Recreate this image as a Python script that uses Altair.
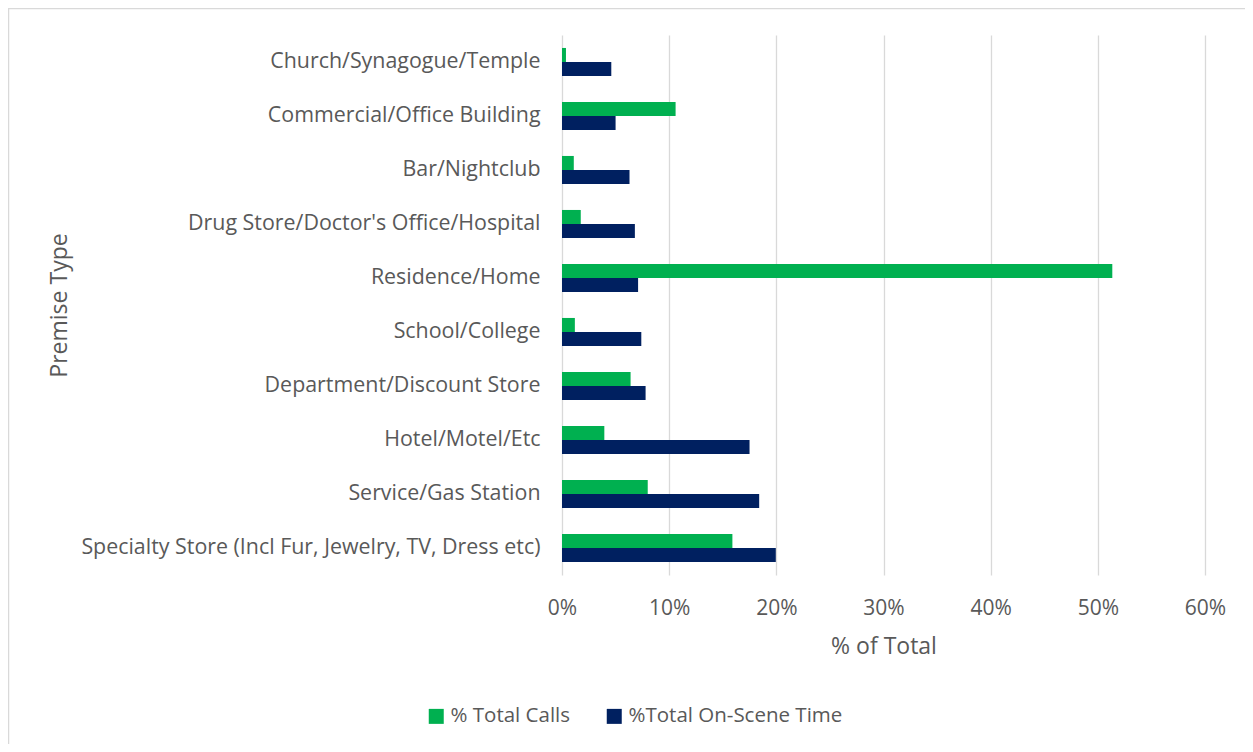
import altair as alt
import pandas as pd

categories = [
    "Church/Synagogue/Temple",
    "Commercial/Office Building",
    "Bar/Nightclub",
    "Drug Store/Doctor's Office/Hospital",
    "Residence/Home",
    "School/College",
    "Department/Discount Store",
    "Hotel/Motel/Etc",
    "Service/Gas Station",
    "Specialty Store (Incl Fur, Jewelry, TV, Dress etc)",
]
total_calls = [0.0037, 0.106, 0.011, 0.0175, 0.5135, 0.012, 0.064, 0.0395, 0.080, 0.159]
on_scene_time = [0.046, 0.050, 0.063, 0.068, 0.071, 0.074, 0.078, 0.175, 0.184, 0.1995]
series_names = ["% Total Calls", "%Total On-Scene Time"]
series_colors = ["#00B050", "#002060"]

rows = []
for c, a, b in zip(categories, total_calls, on_scene_time):
    rows.append({"Premise Type": c, "Series": series_names[0], "Value": a})
    rows.append({"Premise Type": c, "Series": series_names[1], "Value": b})
df = pd.DataFrame(rows)

FONT = "Open Sans"
GRAY = "#595959"

bars = alt.Chart(df).mark_bar().encode(
    y=alt.Y("Premise Type:N", sort=categories,
            scale=alt.Scale(paddingInner=0.48, paddingOuter=0.24),
            axis=alt.Axis(title="Premise Type", ticks=False, domain=False,
                          labelPadding=22, labelFontSize=21.4, labelColor=GRAY,
                          labelFont=FONT, labelLimit=700,
                          titleFont=FONT, titleFontSize=23, titleColor=GRAY,
                          titleFontWeight="normal", titleX=-503, titleY=270,
                          titleAngle=-90, titleBaseline="middle",
                          titleAlign="center")),
    yOffset=alt.YOffset("Series:N", sort=series_names,
                        scale=alt.Scale(paddingInner=0, paddingOuter=0)),
    x=alt.X("Value:Q",
            scale=alt.Scale(domain=[0, 0.6], nice=False),
            axis=alt.Axis(format=".0%", values=[0, 0.1, 0.2, 0.3, 0.4, 0.5, 0.6],
                          title="% of Total", grid=True, gridColor="#d9d9d9",
                          gridWidth=1.3, ticks=False, domain=False,
                          labelFlush=False,
                          labelPadding=22, labelFontSize=21, labelColor=GRAY,
                          labelFont=FONT, titleFont=FONT, titleFontSize=23,
                          titleColor=GRAY, titleFontWeight="normal",
                          titlePadding=17)),
    color=alt.Color("Series:N", sort=series_names,
                    scale=alt.Scale(domain=series_names, range=series_colors),
                    legend=alt.Legend(title=None, orient="none", direction="horizontal",
                                      legendX=-136, legendY=671,
                                      symbolType="square", symbolSize=225,
                                      symbolStrokeWidth=0,
                                      labelFontSize=20.5, labelColor=GRAY,
                                      labelFont=FONT, columnPadding=33,
                                      labelLimit=400)),
)

frame = alt.Chart(pd.DataFrame({"a": [0]})).mark_rect(
    fill="transparent", stroke="#d9d9d9", strokeWidth=1.5
).encode(
    x=alt.value(-553.5), x2=alt.value(720), y=alt.value(-26.5), y2=alt.value(760)
)

chart = alt.layer(frame, bars).properties(
    width=643, height=540,
    autosize=alt.AutoSizeParams(type="none"),
    padding={"left": 554, "top": 27, "right": 40, "bottom": 169},
).configure(font=FONT).configure_view(stroke="transparent", strokeWidth=0)

chart.save("out.html", embed_options={"renderer": "svg", "actions": False})
